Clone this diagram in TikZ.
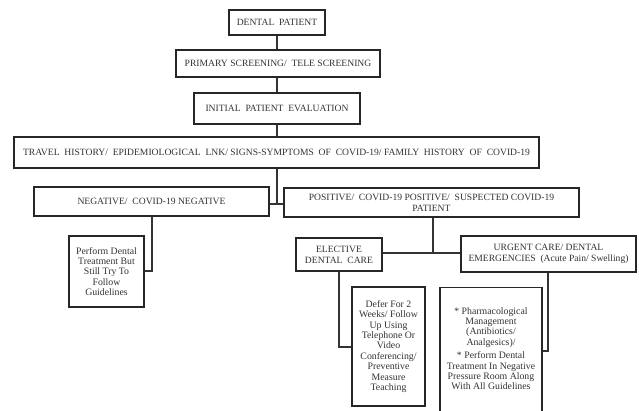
\documentclass[tikz,border=0pt]{standalone}
\usepackage{fontspec}
\setmainfont{Liberation Serif}
\begin{document}
\begin{tikzpicture}[x=1pt,y=-1pt,
  box/.style={draw=black!85,line width=1.1pt,inner sep=0pt,align=center,text=black!80,
    font=\fontsize{9.6}{11}\selectfont},
  smallbox/.style={box,font=\fontsize{9.8}{10.4}\selectfont},
  plaintext/.style={inner sep=0pt,align=center,text=black!80,font=\fontsize{9.8}{10.4}\selectfont},
  conn/.style={draw=black!80,line width=1.2pt}]
\useasboundingbox (0,0) rectangle (639,410);
\clip (0,0) rectangle (639,410);
\fill[white] (0,0) rectangle (639,410);
\node[box,minimum width=96pt,minimum height=25pt] (dp) at (277,22.5) {DENTAL\ \ PATIENT};
\node[box,minimum width=204pt,minimum height=27pt] (ps) at (278,63.5) {PRIMARY SCREENING/\ \ TELE SCREENING};
\node[box,minimum width=166pt,minimum height=31pt] (ie) at (277,108.5) {INITIAL\ \ PATIENT\ \ EVALUATION};
\node[box,minimum width=525pt,minimum height=31pt] (th) at (276.5,152.5) {TRAVEL\ \ HISTORY/\ \ EPIDEMIOLOGICAL\ \ LNK/ SIGNS-SYMPTOMS\ \ OF\ \ COVID-19/ FAMILY\ \ HISTORY\ \ OF\ \ COVID-19};
\node[box,minimum width=235pt,minimum height=29pt] (neg) at (151.5,201.5) {NEGATIVE/\ \ COVID-19 NEGATIVE};
\node[box,minimum width=295pt,minimum height=29pt] (pos) at (431.5,202.5) {POSITIVE/\ \ COVID-19 POSITIVE/\ \ SUSPECTED COVID-19\\PATIENT};
\node[smallbox,minimum width=75pt,minimum height=71pt] (perf) at (106.5,271.5) {Perform Dental\\Treatment But\\Still Try To\\Follow\\Guidelines};
\node[box,minimum width=86pt,minimum height=33pt] (el) at (339,254.5) {ELECTIVE\\DENTAL\ \ CARE};
\node[box,minimum width=175pt,minimum height=36pt] (ur) at (548.5,254) {URGENT CARE/ DENTAL\\EMERGENCIES\ \ (Acute Pain/ Swelling)};
\node[smallbox,minimum width=73pt,minimum height=119pt] (df) at (388.5,346.5) {Defer For 2\\Weeks/ Follow\\Up Using\\Telephone Or\\Video\\Conferencing/\\Preventive\\Measure\\Teaching};
\node[smallbox,minimum width=102pt,minimum height=133pt,anchor=north] (ph) at (491,287) {};
\node[plaintext,anchor=north] (pht) at (491,307) {* Pharmacological\\Management\\(Antibiotics/\\Analgesics)/\\[3pt]* Perform Dental\\Treatment In Negative\\Pressure Room Along\\With All Guidelines};
\coordinate (j1) at (277,204);
\coordinate (j2) at (433,253);
\coordinate (k1) at (152,271);
\coordinate (k2) at (339,347);
\coordinate (k3) at (548,351);
\draw[conn] (dp.south) -- (dp.south |- ps.north);
\draw[conn] (ps.south -| dp.south) -- (dp.south |- ie.north);
\draw[conn] (ie.south -| dp.south) -- (dp.south |- th.north);
\draw[conn] (th.south -| j1) -- (j1);
\draw[conn] (neg.east |- j1) -- (pos.west |- j1);
\draw[conn] (neg.south -| k1) -- (k1) -- (k1 -| perf.east);
\draw[conn,line width=1.6pt] (pos.south -| j2) -- (j2);
\draw[conn] (el.east |- j2) -- (ur.west |- j2);
\draw[conn] (el.south -| k2) -- (k2) -- (k2 -| df.west);
\draw[conn] (ur.south -| k3) -- (k3) -- (k3 -| ph.east);
\end{tikzpicture}
\end{document}
